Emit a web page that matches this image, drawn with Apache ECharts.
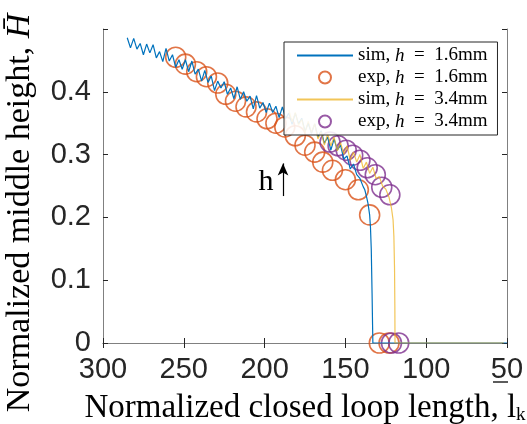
<!DOCTYPE html>
<html>
<head>
<meta charset="utf-8">
<script src="https://cdn.jsdelivr.net/npm/echarts@6/dist/echarts.min.js"></script>
<style>
  html, body { margin: 0; padding: 0; background: #fff; }
  #chart { width: 527px; height: 424px; }
</style>
</head>
<body>
<div id="chart"></div>
<script>
// sim, h = 1.6mm
const simLoX = [285, 283, 281, 279, 277, 275, 273, 271, 269, 267, 265, 263, 261, 259, 257, 255,
  253, 251, 249, 247, 245, 243, 241, 239, 237, 235, 233, 231, 229, 227, 225, 223, 221, 219, 217,
  215, 213, 211, 209, 207, 205, 203, 201, 199, 197, 195, 193, 191, 189, 187, 185, 183, 181, 179,
  177, 175, 173, 171, 169, 167, 165, 163, 161, 159, 157, 155, 153, 151, 149, 147, 145,
  143, 141, 139, 138, 137, 136, 135, 134.5, 134, 133.5, 133.2, 133, 50]
const simLoY = [0.486, 0.470, 0.485, 0.468, 0.477, 0.459, 0.476, 0.462, 0.475, 0.454, 0.464, 0.448,
  0.469, 0.449, 0.459, 0.439, 0.451, 0.436, 0.451, 0.432, 0.449, 0.428, 0.436, 0.417, 0.434, 0.415,
  0.425, 0.402, 0.417, 0.406, 0.416, 0.396, 0.406, 0.389, 0.408, 0.388, 0.400, 0.385, 0.393, 0.373,
  0.394, 0.374, 0.383, 0.367, 0.382, 0.367, 0.377, 0.359, 0.376, 0.357, 0.366, 0.348, 0.366, 0.349,
  0.358, 0.337, 0.350, 0.334, 0.349, 0.328, 0.338, 0.318, 0.328, 0.307, 0.325, 0.307, 0.315, 0.293,
  0.298, 0.277, 0.285,
  0.268, 0.262, 0.249, 0.244, 0.234, 0.222, 0.204, 0.185, 0.150, 0.080, 0.030, 0, 0]

// exp, h = 1.6mm
const expLoX = [255, 249, 242, 236, 229, 224, 218, 211.5, 205, 198.5, 193, 187.5, 181, 175, 169,
  164, 158, 150, 142, 135, 129, 123]
const expLoY = [0.455, 0.444, 0.432, 0.424, 0.414, 0.396, 0.385, 0.376, 0.368, 0.357, 0.350, 0.344,
  0.330, 0.315, 0.304, 0.288, 0.275, 0.260, 0.244, 0.204, 0, 0]

// sim, h = 3.4mm
const simHiX = [185, 183, 181, 179, 177, 175, 173, 171, 169, 167, 165, 163, 161, 159, 157, 155,
  153, 151, 149, 147, 145, 143, 141, 139, 137, 135, 133, 131, 129, 127,
  125, 123, 121.5, 120.5, 120, 119.6, 119.4, 119.3, 52]
const simHiY = [0.371, 0.352, 0.367, 0.347, 0.356, 0.335, 0.353, 0.335, 0.349, 0.325, 0.336, 0.315,
  0.333, 0.314, 0.328, 0.306, 0.319, 0.301, 0.314, 0.291, 0.304, 0.288, 0.300, 0.278, 0.288, 0.270,
  0.280, 0.262, 0.265, 0.250,
  0.245, 0.232, 0.215, 0.196, 0.170, 0.120, 0.060, 0, 0]

// exp, h = 3.4mm
const expHiX = [159.5, 154.5, 149.5, 145.5, 141, 136.5, 131.5, 127.5, 122.5, 121.5, 117]
const expHiY = [0.320, 0.314, 0.307, 0.299, 0.291, 0.279, 0.268, 0.248, 0.236, 0, 0]

const pair = (xs, ys) => xs.map((x, i) => [x, ys[i]])

const serif = 'Liberation Serif'
const sans = 'Liberation Sans'
const axisGrey = '#808080'
const tickColor = '#262626'

const legendText = {
  'sim1': 'sim, {i|h}  =  1.6mm',
  'exp1': 'exp, {i|h}  =  1.6mm',
  'sim2': 'sim, {i|h}  =  3.4mm',
  'exp2': 'exp, {i|h}  =  3.4mm'
}
// line entries in the legend: no marker on the line sample
const noMarker = { color: 'rgba(0,0,0,0)', borderWidth: 0, opacity: 0 }

const chart = echarts.init(document.getElementById('chart'))

const baseX = {
  type: 'value', inverse: true, min: 50, max: 300, interval: 50,
  axisLine: { show: true, lineStyle: { color: axisGrey, width: 1 } },
  axisTick: { show: true, inside: true, length: 5, lineStyle: { color: tickColor } },
  splitLine: { show: false }
}
const baseY = {
  type: 'value', min: 0, max: 0.5, interval: 0.1,
  axisLine: { show: true, lineStyle: { color: axisGrey, width: 1 } },
  axisTick: { show: true, inside: true, length: 5, lineStyle: { color: tickColor } },
  splitLine: { show: false }
}

const option = {
  animation: false,
  grid: { left: 103, right: 20, top: 29, bottom: 81, containLabel: false, outerBoundsMode: 'none' },
  legend: {
    left: 284, top: 42,
    orient: 'vertical',
    itemWidth: 56, itemHeight: 12, itemGap: 3,
    padding: [4, 10, 4, 12],
    backgroundColor: 'rgba(255,255,255,0.88)',
    borderColor: '#262626', borderWidth: 1,
    textStyle: {
      fontFamily: serif, fontSize: 19, color: '#000', lineHeight: 16,
      rich: { i: { fontFamily: serif, fontStyle: 'italic', fontSize: 19, color: '#000', lineHeight: 16 } }
    },
    formatter: name => legendText[name],
    data: [
      { name: 'sim1', itemStyle: noMarker },
      { name: 'exp1' },
      { name: 'sim2', itemStyle: noMarker },
      { name: 'exp2' }
    ]
  },
  xAxis: [
    Object.assign({}, baseX, {
      position: 'bottom',
      axisLabel: { fontFamily: sans, fontSize: 29, color: tickColor, margin: 12 },
      name: 'Normalized closed loop length, l{k|k}',
      nameLocation: 'middle', nameGap: 48,
      nameTextStyle: {
        fontFamily: serif, fontSize: 33, color: '#000',
        rich: { k: { fontFamily: serif, fontSize: 19, verticalAlign: 'bottom', padding: [15, 0, 0, 0] } }
      }
    }),
    Object.assign({}, baseX, { position: 'top', axisLabel: { show: false } })
  ],
  yAxis: [
    Object.assign({}, baseY, {
      position: 'left',
      axisLabel: {
        fontFamily: sans, fontSize: 29, color: tickColor, margin: 12,
        formatter: v => (v > 0.45 ? '' : String(Math.round(v * 10) / 10))
      }
    }),
    Object.assign({}, baseY, { position: 'right', axisLabel: { show: false } })
  ],
  graphic: [
    {
      type: 'text', x: 20, y: 213, rotation: Math.PI / 2,
      style: {
        text: '{r|Normalized middle height, }{i|H\u0304}',
        align: 'center', verticalAlign: 'middle',
        rich: {
          r: { fontFamily: serif, fontSize: 34, fill: '#000' },
          i: { fontFamily: serif, fontStyle: 'italic', fontSize: 34, fill: '#000' }
        }
      }
    },
    {
      type: 'text', x: 266, y: 182,
      style: { text: 'h', font: '30px "Liberation Serif"', fill: '#000', align: 'center', verticalAlign: 'middle' }
    },
    {
      type: 'line', shape: { x1: 493, y1: 382, x2: 508, y2: 382 },
      style: { stroke: '#262626', lineWidth: 1.5 }
    }
  ],
  series: [
    {
      name: 'sim1', type: 'line', data: pair(simLoX, simLoY),
      symbol: 'none', lineStyle: { color: '#0072BD', width: 1.2 }, itemStyle: { color: '#0072BD' }
    },
    {
      name: 'exp1', type: 'scatter', data: pair(expLoX, expLoY),
      symbol: 'circle', symbolSize: 20,
      itemStyle: { color: 'rgba(0,0,0,0)', borderColor: '#D95319', borderWidth: 1.6 },
      markLine: {
        silent: true, symbol: ['none', 'arrow'], symbolSize: [8, 12],
        label: { show: false },
        lineStyle: { color: '#000', width: 1.2, type: 'solid' },
        data: [[{ coord: [188.6, 0.234] }, { coord: [188.6, 0.286] }]]
      }
    },
    {
      name: 'sim2', type: 'line', data: pair(simHiX, simHiY),
      symbol: 'none', lineStyle: { color: '#EDB120', width: 1.2, opacity: 0.75 }, itemStyle: { color: '#EDB120' }
    },
    {
      name: 'exp2', type: 'scatter', data: pair(expHiX, expHiY),
      symbol: 'circle', symbolSize: 20,
      itemStyle: { color: 'rgba(0,0,0,0)', borderColor: '#7E2F8E', borderWidth: 1.6 }
    }
  ]
}

chart.setOption(option)
</script>
</body>
</html>
